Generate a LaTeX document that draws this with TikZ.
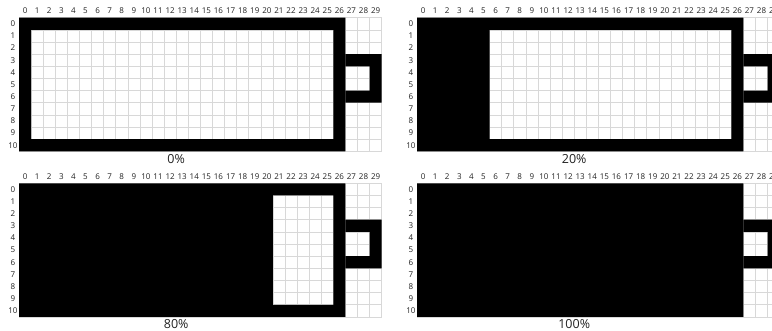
\documentclass[tikz,border=0pt]{standalone}
\usepackage{fontspec}
\setmainfont{Open Sans}
\definecolor{gridgray}{HTML}{D8D8D8}
\definecolor{ticktext}{HTML}{222222}
\tikzset{
  gridline/.style={draw=gridgray, line width=0.6pt},
  tick/.style={font=\fontsize{8}{9}\selectfont, text=ticktext, inner sep=0pt},
  caption/.style={font=\fontsize{12.5}{14}\selectfont, text=ticktext, inner sep=0pt}
}

\begin{document}
\begin{tikzpicture}[x=1pt, y=-1pt]
    \clip (0,0) rectangle (772,331);

    % Battery panels
    \foreach \px/\py/\level/\pct/\name in {19/17.7/1/0/a, 417/17.7/6/20/b, 19/183.3/21/80/c, 417/183.3/26/100/d} {
      \begin{scope}[shift={(\px,\py)}, x=12.09pt, y=-12.15pt]
        \foreach \col in {0,...,30} {
          \draw[gridline] (\col,0) -- (\col,11);
        }
        \foreach \row in {0,...,11} {
          \draw[gridline] (0,\row) -- (30,\row);
        }

        % Body and terminal
        \fill[black, even odd rule] (0,0) rectangle (27,11) (\level,1) rectangle (26,10);
        \fill[black, even odd rule] (27,3) rectangle (30,7) (27,4) rectangle (29,6);

        % Column and row numbers
        \foreach \col in {0,...,29} {
          \node[tick] (col\name\col) at (\col+0.5,-0.55) {\col};
        }
        \foreach \row in {0,...,10} {
          \node[tick] (row\name\row) at (-0.5,\row+0.5) {\row};
        }

        % Level label
        \node[caption] (cap\name) at (13,11.62) {\pct\%};
      \end{scope}
    }
\end{tikzpicture}
\end{document}
